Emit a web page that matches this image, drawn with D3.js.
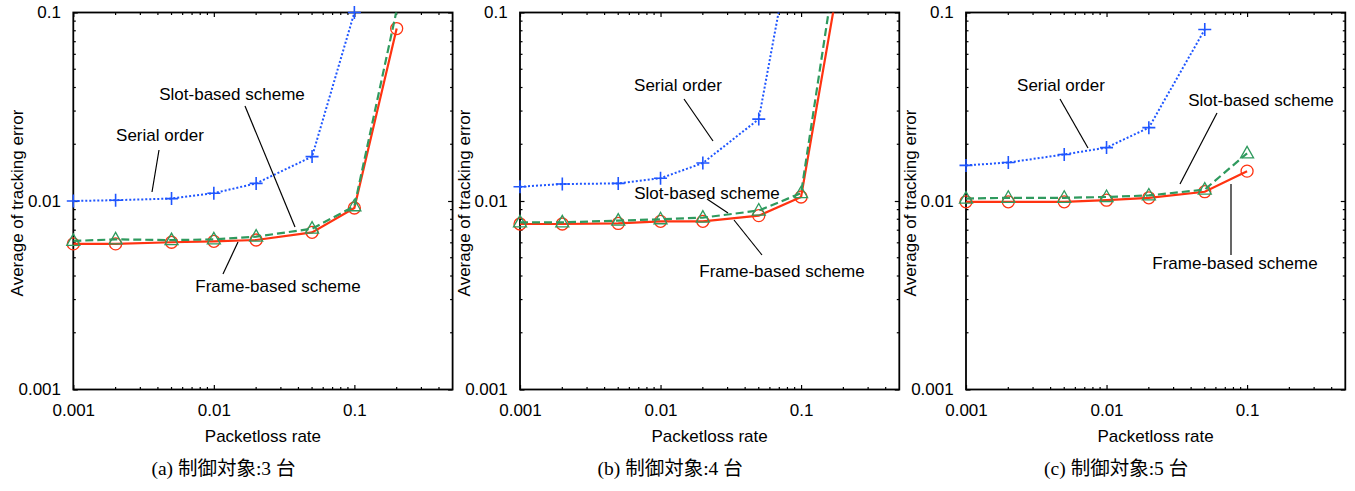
<!DOCTYPE html>
<html><head><meta charset="utf-8">
<script src="https://cdn.jsdelivr.net/npm/d3@7"></script>
<style>
body{margin:0;background:#fff}
svg{display:block}
text{font-family:"Liberation Sans",Arial,sans-serif;fill:#000}
</style>
</head><body>
<svg id="c" width="1355" height="491"></svg>
<script>
// ---- data ----
const lossRates = [0.001, 0.002, 0.005, 0.01, 0.02, 0.05, 0.1, 0.2];
const xTickValues = [0.001, 0.01, 0.1];
const xTickLabels = ["0.001", "0.01", "0.1"];
const yTickValues = [0.001, 0.01, 0.1];
const yTickLabels = ["0.001", "0.01", "0.1"];
const seriesNames = ["Frame-based scheme", "Slot-based scheme", "Serial order"];
const captions = ["(a) 制御対象:3 台", "(b) 制御対象:4 台", "(c) 制御対象:5 台"];
const xLabel = "Packetloss rate";
const yLabel = "Average of tracking error";

// panel (a): 3 targets
const frameA  = [0.00592, 0.00592, 0.00604, 0.00611, 0.00621, 0.00682, 0.00918, 0.0822];
const slotA   = [0.00614, 0.00626, 0.00620, 0.00626, 0.00647, 0.00713, 0.00938, 0.103];
const serialA = [0.0100, 0.0101, 0.0103, 0.0110, 0.0124, 0.0172, 0.100, null];
// panel (b): 4 targets
const frameB  = [0.00755, 0.00755, 0.00760, 0.00780, 0.00780, 0.00836, 0.0105, 0.206];
const slotB   = [0.00770, 0.00770, 0.00787, 0.00800, 0.00816, 0.00890, 0.0110, 0.33];
const serialB = [0.0119, 0.0123, 0.0124, 0.0132, 0.0159, 0.0272, 0.44, null];
// panel (c): 5 targets
const frameC  = [0.0099, 0.0099, 0.0099, 0.0101, 0.0104, 0.0112, 0.0144, null];
const slotC   = [0.0103, 0.0104, 0.0104, 0.0105, 0.0107, 0.0115, 0.0179, null];
const serialC = [0.01545, 0.0160, 0.01766, 0.0192, 0.0245, 0.0813, null, null];

// ---- layout / style ----
const panelLefts = [73.3, 520, 966];
const plotW = 379.3, plotTop = 12.5, plotBottom = 389.5;
const styles = {
  "Frame-based scheme": {color:"#ff3311", dash:null, width:2.2, marker:"circle"},
  "Slot-based scheme":  {color:"#2f9a5e", dash:"8,4", width:2.2, marker:"triangle"},
  "Serial order":       {color:"#1f56ff", dash:"2,2", width:2, marker:"plus"}
};
// annotation text centers and leader lines, panel-relative pixels
const annotations = [
  [ {name:"Serial order", tx:86.7, ty:135, l:[85.7,150,78.7,192]},
    {name:"Slot-based scheme", tx:158.7, ty:94, l:[171.7,106,221.7,227]},
    {name:"Frame-based scheme", tx:204.7, ty:286, l:[164.7,242,149.7,274]} ],
  [ {name:"Serial order", tx:158, ty:85, l:[164,99,193,141]},
    {name:"Slot-based scheme", tx:187, ty:193, l:[187,199,208,213]},
    {name:"Frame-based scheme", tx:262, ty:271, l:[214,220,242,255]} ],
  [ {name:"Serial order", tx:95, ty:85, l:[94,99,122,148]},
    {name:"Slot-based scheme", tx:295, ty:100, l:[251,113,214,184]},
    {name:"Frame-based scheme", tx:269, ty:263, l:[265,184,265,255]} ]
];
const panelData = [
  {"Frame-based scheme":frameA, "Slot-based scheme":slotA, "Serial order":serialA},
  {"Frame-based scheme":frameB, "Slot-based scheme":slotB, "Serial order":serialB},
  {"Frame-based scheme":frameC, "Slot-based scheme":slotC, "Serial order":serialC}
];

const svg = d3.select("#c");

function minorTicks(lo, hi) {
  const out = [];
  for (let e = Math.floor(Math.log10(lo)); e <= Math.ceil(Math.log10(hi)); e++) {
    for (let m = 2; m <= 9; m++) {
      const v = m * Math.pow(10, e);
      if (v > lo && v < hi) out.push(v);
    }
  }
  return out;
}

panelLefts.forEach((left, pi) => {
  const x = d3.scaleLog().domain([0.001, 0.5]).range([left, left + plotW]);
  const y = d3.scaleLog().domain([0.001, 0.1]).range([plotBottom, plotTop]);
  const right = left + plotW;
  const g = svg.append("g");

  // clip
  const cid = "clip" + pi;
  svg.append("clipPath").attr("id", cid).append("rect")
    .attr("x", left).attr("y", plotTop).attr("width", plotW).attr("height", plotBottom - plotTop);

  // axes (major ticks inward)
  const ax = g.append("g").attr("transform", `translate(0,${plotBottom})`)
    .call(d3.axisBottom(x).tickValues(xTickValues).tickFormat((d, i) => xTickLabels[i])
      .tickSizeInner(-4.5).tickSizeOuter(0).tickPadding(14.4));
  const ay = g.append("g").attr("transform", `translate(${left},0)`)
    .call(d3.axisLeft(y).tickValues(yTickValues).tickFormat((d, i) => yTickLabels[i])
      .tickSizeInner(-4.5).tickSizeOuter(0).tickPadding(12.3));
  const at = g.append("g").attr("transform", `translate(0,${plotTop})`)
    .call(d3.axisTop(x).tickValues(xTickValues).tickFormat("").tickSizeInner(-4.5).tickSizeOuter(0));
  const ar = g.append("g").attr("transform", `translate(${right},0)`)
    .call(d3.axisRight(y).tickValues(yTickValues).tickFormat("").tickSizeInner(-4.5).tickSizeOuter(0));
  [ax, ay, at, ar].forEach(a => {
    a.select(".domain").remove();
    a.selectAll("line").attr("stroke", "#000").attr("stroke-width", 1.2);
    a.selectAll("text").style("font-size", "17px").style("font-family", '"Liberation Sans",Arial,sans-serif').attr("fill", "#000");
  });

  // minor ticks
  const mx = minorTicks(0.001, 0.5), my = minorTicks(0.001, 0.1);
  const mt = g.append("g").attr("stroke", "#000").attr("stroke-width", 1.2);
  mx.forEach(v => {
    mt.append("line").attr("x1", x(v)).attr("x2", x(v)).attr("y1", plotBottom).attr("y2", plotBottom - 2.5);
    mt.append("line").attr("x1", x(v)).attr("x2", x(v)).attr("y1", plotTop).attr("y2", plotTop + 2.5);
  });
  my.forEach(v => {
    mt.append("line").attr("y1", y(v)).attr("y2", y(v)).attr("x1", left).attr("x2", left + 2.5);
    mt.append("line").attr("y1", y(v)).attr("y2", y(v)).attr("x1", right).attr("x2", right - 2.5);
  });

  // frame
  g.append("rect").attr("x", left).attr("y", plotTop).attr("width", plotW).attr("height", plotBottom - plotTop)
    .attr("fill", "none").attr("stroke", "#000").attr("stroke-width", 1.8);

  // series
  const data = panelData[pi];
  seriesNames.forEach(name => {
    const st = styles[name];
    const pts = lossRates.map((r, i) => ({r, v: data[name][i]}));
    const line = d3.line().defined(d => d.v != null).x(d => x(d.r)).y(d => y(d.v));
    g.append("path").attr("d", line(pts)).attr("fill", "none")
      .attr("stroke", st.color).attr("stroke-width", st.width)
      .attr("stroke-dasharray", st.dash).attr("clip-path", `url(#${cid})`);
    const vis = pts.filter(d => d.v != null && d.v <= 0.1 * 1.001 && d.v >= 0.001);
    const mg = g.append("g").attr("fill", "none").attr("stroke", st.color).attr("stroke-width", 1.3);
    vis.forEach(d => {
      const cx = x(d.r), cy = y(d.v);
      if (st.marker === "circle") {
        mg.append("circle").attr("cx", cx).attr("cy", cy).attr("r", 6);
      } else if (st.marker === "triangle") {
        mg.append("path").attr("d", `M${cx},${cy - 7}L${cx + 6.5},${cy + 4.5}L${cx - 6.5},${cy + 4.5}Z`);
      } else {
        mg.append("path").attr("d", `M${cx - 6.5},${cy}H${cx + 6.5}M${cx},${cy - 6.5}V${cy + 6.5}`).attr("stroke-width", 1.6);
      }
    });
  });

  // annotations
  annotations[pi].forEach(a => {
    g.append("line").attr("x1", left + a.l[0]).attr("y1", a.l[1]).attr("x2", left + a.l[2]).attr("y2", a.l[3])
      .attr("stroke", "#000").attr("stroke-width", 1.2);
    g.append("text").attr("x", left + a.tx).attr("y", a.ty).attr("dy", "0.36em")
      .attr("text-anchor", "middle").style("font-size", "17px").text(a.name);
  });

  // axis labels
  g.append("text").attr("x", (left + right) / 2).attr("y", 442).attr("text-anchor", "middle")
    .style("font-size", "17px").text(xLabel);
  g.append("text").attr("transform", `translate(${left - 50},${(plotTop + plotBottom) / 2 + 2}) rotate(-90)`)
    .attr("text-anchor", "middle").style("font-size", "17px").text(yLabel);

  // caption
  g.append("text").attr("x", (left + right) / 2 - 39.5).attr("y", 475).attr("text-anchor", "middle")
    .style("font-size", "19.5px").style("font-family", '"Liberation Serif","Noto Sans CJK JP",serif')
    .text(captions[pi]);
});
</script>
</body></html>
